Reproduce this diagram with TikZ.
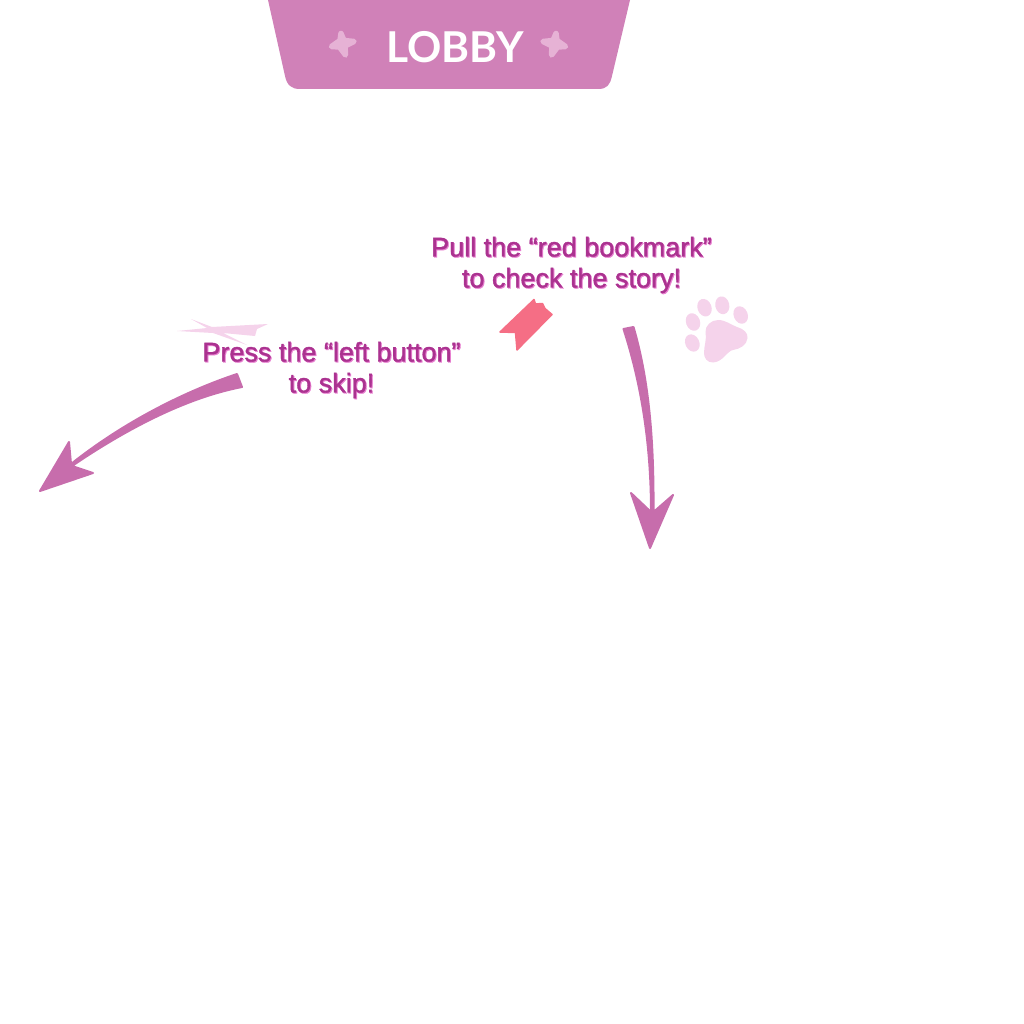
\documentclass[tikz,border=0pt]{standalone}
\usepackage{fontspec}
\setmainfont{Liberation Sans}
\newfontfamily\lobbyfont{Lato}
\newfontfamily\hintfont[FakeBold=1.3]{Liberation Sans}
\definecolor{bannerpink}{HTML}{D081B8}
\definecolor{starpink}{HTML}{E6B2D5}
\definecolor{arrowpink}{HTML}{C76DAC}
\definecolor{hintpurple}{HTML}{AB3290}
\definecolor{hintshadow}{HTML}{E77FCF}
\definecolor{softpink}{HTML}{F5D3EB}
\definecolor{bookmarkred}{HTML}{F56E85}
\tikzset{
  hint/.style={align=center, inner sep=0pt, font=\hintfont\fontsize{27}{31}\selectfont},
  star/.style={fill=starpink, draw=starpink, line width=5.5pt, line join=round},
  soft/.style={fill=softpink},
  bigarrow/.style={fill=arrowpink, draw=arrowpink, line width=2pt, line join=round},
}
\begin{document}
\begin{tikzpicture}[x=1pt,y=-1pt]
\useasboundingbox (0,0) rectangle (1024,1024);
% banner
\fill[bannerpink] (268,0) -- (285,76) .. controls (287,85) and (291,89) .. (300,89) -- (598,89) .. controls (607,89) and (610,85) .. (612,76) -- (630,0) -- cycle;
\node[text=white, inner sep=0pt, font=\lobbyfont\bfseries\fontsize{42.5}{43}\selectfont] (lobby) at (455.5,47) {LOBBY};
\draw[star] (341,33.5) -- (344,40.5) -- (354,41.5) -- (345,46) -- (345.5,55) -- (339.5,47) -- (331.5,46.5) -- (340,40.5) -- cycle;
\draw[star] (556,33.5) -- (553,40.5) -- (543,41.5) -- (552,46) -- (551.5,55) -- (557.5,47) -- (565.5,46.5) -- (557,40.5) -- cycle;
% plane
\fill[soft] (177,331) -- (207,328) -- (191,319) -- (212,327) -- (268,324) -- (257,329) -- (255,336) -- (223,333) -- (247,345) -- (213,333) -- cycle;
% hints
\node[hint, text=hintshadow] (skipshadow) at (332.5,371) {Press the “left button”\\to skip!};
\node[hint, text=hintpurple] (skip) at (331.5,370) {Press the “left button”\\to skip!};
\node[hint, text=hintshadow] (pullshadow) at (572.5,266) {Pull the “red bookmark”\\to check the story!};
\node[hint, text=hintpurple] (pull) at (571.5,265) {Pull the “red bookmark”\\to check the story!};
% bookmark
\filldraw[bookmarkred, line width=1.5pt, line join=round] (534,299.5) -- (535.5,304) -- (542.5,303.5) -- (545,308.5) -- (552,314.5) -- (517,350) -- (515.5,332.5) -- (500,332) -- cycle;
% paw
\fill[soft] (718,320) .. controls (726,320) and (731,325) .. (737,327) .. controls (744,329) and (748,333) .. (747.5,338) .. controls (747,345) and (740,349) .. (733,350) .. controls (727,351) and (723,362) .. (713,362.5) .. controls (707,362.5) and (704,358) .. (704,353) .. controls (704,346) and (707,339) .. (705.5,332) .. controls (705,326) and (711,320) .. (718,320) -- cycle;
\fill[soft, rotate around={20:(693,322)}] (693,322) ellipse [x radius=7, y radius=9];
\fill[soft, rotate around={20:(704.5,307.7)}] (704.5,307.7) ellipse [x radius=7, y radius=9];
\fill[soft, rotate around={12:(722.3,305.3)}] (722.3,305.3) ellipse [x radius=7, y radius=9];
\fill[soft, rotate around={22:(740.7,315)}] (740.7,315) ellipse [x radius=7, y radius=9];
\fill[soft, rotate around={25:(692.3,343)}] (692.3,343) ellipse [x radius=7, y radius=9];
% arrows
\draw[bigarrow] (237,374) .. controls (180,393) and (120,425) .. (71,464) -- (69,442) -- (40,491) -- (93,473) -- (72,466) .. controls (125,430) and (185,398) .. (242,387) -- cycle;
\draw[bigarrow] (623.5,329) .. controls (640,380) and (651,440) .. (651,512) -- (631,493) -- (650,548) -- (673,495) -- (653.5,512) .. controls (654,440) and (649,380) .. (633.5,327) -- cycle;
\end{tikzpicture}
\end{document}
